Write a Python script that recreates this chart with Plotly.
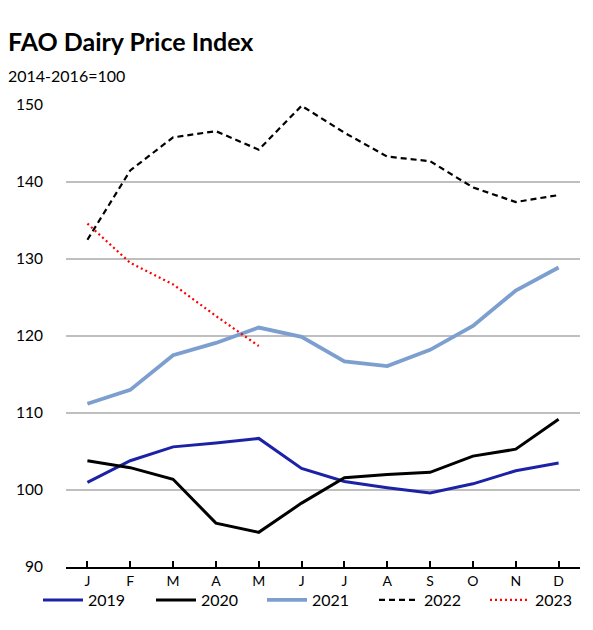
import plotly.graph_objects as go

months = ["J", "F", "M", "A", "M", "J", "J", "A", "S", "O", "N", "D"]
y2019 = [101.0, 103.8, 105.6, 106.1, 106.7, 102.8, 101.1, 100.3, 99.6, 100.8, 102.5, 103.5]
y2020 = [103.8, 102.9, 101.4, 95.7, 94.5, 98.3, 101.6, 102.0, 102.3, 104.4, 105.3, 109.2]
y2021 = [111.2, 113.0, 117.5, 119.1, 121.1, 119.9, 116.7, 116.1, 118.2, 121.3, 125.9, 128.9]
y2022 = [132.5, 141.5, 145.8, 146.6, 144.2, 149.9, 146.4, 143.3, 142.7, 139.3, 137.4, 138.3]
y2023 = [134.6, 129.5, 126.7, 122.6, 118.7]

xi = list(range(12))
FONT = "Lato, Open Sans, sans-serif"

series = [
    ("2019", y2019, dict(color="#1C22A6", width=3)),
    ("2020", y2020, dict(color="#000000", width=3)),
    ("2021", y2021, dict(color="#7C9FCF", width=3.8)),
    ("2022", y2022, dict(color="#000000", width=2.2, dash="6px,4px")),
    ("2023", y2023, dict(color="#FF0000", width=2.2, dash="2px,3px")),
]
legend_x_px = [30, 143, 254, 366, 477]

fig = go.Figure()
layout_legends = {}
for i, (name, vals, line) in enumerate(series):
    lname = "legend" if i == 0 else f"legend{i + 1}"
    fig.add_trace(go.Scatter(x=xi[:len(vals)], y=vals, mode="lines", name=name,
                             line=line, legend=lname))
    layout_legends[lname] = dict(
        orientation="h", x=legend_x_px[i] / 593, xanchor="left", xref="container",
        yref="paper", y=-(575 - 559) / 462, yanchor="top",
        font=dict(size=16, family=FONT), itemwidth=40,
        bgcolor="rgba(0,0,0,0)",
    )

fig.update_layout(
    width=593, height=630,
    paper_bgcolor="white", plot_bgcolor="white",
    margin=dict(l=58, r=21, t=97, b=71, autoexpand=False),
    font=dict(family=FONT, color="#000000"),
    showlegend=True,
    **layout_legends,
)
fig.add_annotation(text="<b>FAO Dairy Price Index</b>", xref="paper", yref="paper",
                   x=-60/514, y=1 + (97 - 33) / 462, xanchor="left", yanchor="middle",
                   showarrow=False, font=dict(size=25, family=FONT))
fig.add_annotation(text="2014-2016=100", xref="paper", yref="paper",
                   x=-60/514, y=1 + (97 - 68) / 462, xanchor="left", yanchor="middle",
                   showarrow=False, font=dict(size=16, family=FONT))

fig.update_xaxes(
    tickmode="array", tickvals=xi, ticktext=months,
    range=[-0.5, 11.5], showgrid=False, zeroline=False,
    showline=True, linecolor="#000000", linewidth=2,
    ticks="inside", ticklen=6, tickcolor="#000000", tickwidth=1.5,
    tickfont=dict(size=14, family=FONT), tickson="boundaries",
)
fig.update_yaxes(
    range=[90, 150], dtick=10, tick0=90,
    showgrid=True, gridcolor="#BFBFBF", gridwidth=2,
    zeroline=False, showline=False, ticks="",
    tickfont=dict(size=15.5, family=FONT),
    ticklabelstandoff=22,
)

fig.write_html("out.html")
